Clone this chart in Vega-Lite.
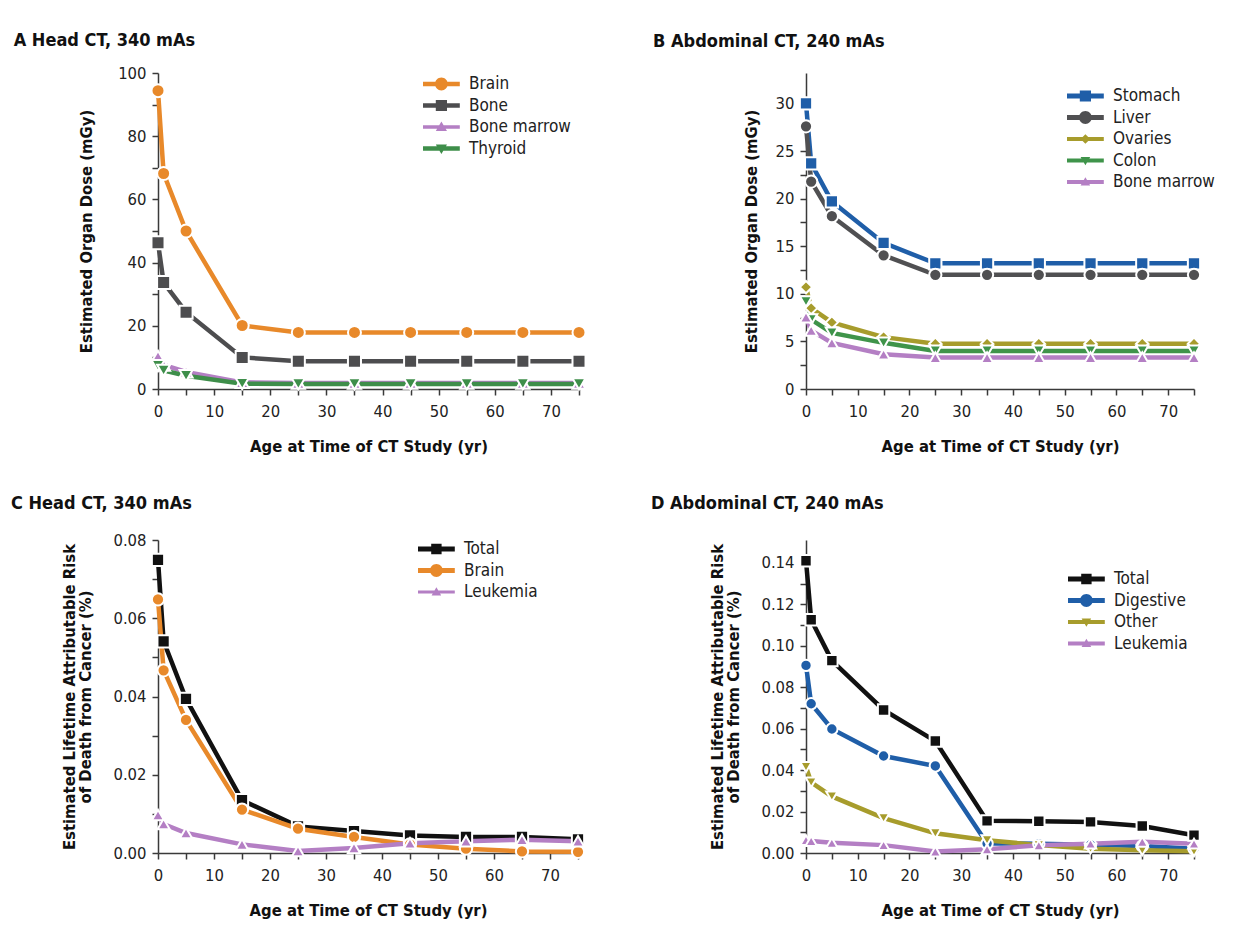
{
  "$schema": "https://vega.github.io/schema/vega-lite/v6.json",
  "background": "white",
  "padding": {"left": 10, "top": 32, "right": 5, "bottom": 5},
  "config": {
    "font": "DejaVu Sans Condensed, Roboto, sans-serif",
    "view": {"stroke": null},
    "axis": {
      "domainColor": "#3a3a3a", "domainWidth": 1.5, "tickColor": "#3a3a3a", "tickWidth": 1.5, "tickSize": 6,
      "labelFontSize": 16.5, "labelColor": "#222", "labelFlush": false, "labelOverlap": false,
      "titleFontSize": 16.5, "titleFontWeight": "bold", "titleColor": "#111", "titleLineHeight": 16,
      "grid": false
    },
    "axisX": {"labelPadding": 8},
    "axisY": {"labelPadding": 6},
    "legend": {"labelFontSize": 17, "labelColor": "#222", "symbolSize": 256, "rowPadding": 4.5, "title": null, "symbolStrokeWidth": 0, "symbolOpacity": 1, "labelOffset": 29, "padding": 0},
    "title": {"anchor": "start", "fontSize": 18, "fontWeight": "bold", "color": "#111"},
    "line": {"strokeWidth": 4.5, "strokeCap": "butt"},
    "point": {"filled": true, "opacity": 1, "stroke": "white", "strokeWidth": 2}
  },
  "resolve": {"scale": {"color": "independent", "shape": "independent", "fill": "independent"}},
  "datasets": {
    "a": [
      {"age": 0, "organ": "Brain", "v": 94.4}, {"age": 1, "organ": "Brain", "v": 68.2}, {"age": 5, "organ": "Brain", "v": 50.0}, {"age": 15, "organ": "Brain", "v": 20.1}, {"age": 25, "organ": "Brain", "v": 17.9}, {"age": 35, "organ": "Brain", "v": 17.9}, {"age": 45, "organ": "Brain", "v": 17.9}, {"age": 55, "organ": "Brain", "v": 17.9}, {"age": 65, "organ": "Brain", "v": 17.9}, {"age": 75, "organ": "Brain", "v": 17.9},
      {"age": 0, "organ": "Bone", "v": 46.3}, {"age": 1, "organ": "Bone", "v": 33.7}, {"age": 5, "organ": "Bone", "v": 24.3}, {"age": 15, "organ": "Bone", "v": 10.0}, {"age": 25, "organ": "Bone", "v": 8.8}, {"age": 35, "organ": "Bone", "v": 8.8}, {"age": 45, "organ": "Bone", "v": 8.8}, {"age": 55, "organ": "Bone", "v": 8.8}, {"age": 65, "organ": "Bone", "v": 8.8}, {"age": 75, "organ": "Bone", "v": 8.8},
      {"age": 0, "organ": "Bone marrow", "v": 10.3}, {"age": 1, "organ": "Bone marrow", "v": 7.6}, {"age": 5, "organ": "Bone marrow", "v": 5.4}, {"age": 15, "organ": "Bone marrow", "v": 2.1}, {"age": 25, "organ": "Bone marrow", "v": 1.9}, {"age": 35, "organ": "Bone marrow", "v": 1.9}, {"age": 45, "organ": "Bone marrow", "v": 1.9}, {"age": 55, "organ": "Bone marrow", "v": 1.9}, {"age": 65, "organ": "Bone marrow", "v": 1.9}, {"age": 75, "organ": "Bone marrow", "v": 1.9},
      {"age": 0, "organ": "Thyroid", "v": 7.4}, {"age": 1, "organ": "Thyroid", "v": 5.9}, {"age": 5, "organ": "Thyroid", "v": 4.2}, {"age": 15, "organ": "Thyroid", "v": 1.7}, {"age": 25, "organ": "Thyroid", "v": 1.6}, {"age": 35, "organ": "Thyroid", "v": 1.6}, {"age": 45, "organ": "Thyroid", "v": 1.6}, {"age": 55, "organ": "Thyroid", "v": 1.6}, {"age": 65, "organ": "Thyroid", "v": 1.6}, {"age": 75, "organ": "Thyroid", "v": 1.6}
    ],
    "b": [
      {"age": 0, "organ": "Stomach", "v": 30.0}, {"age": 1, "organ": "Stomach", "v": 23.7}, {"age": 5, "organ": "Stomach", "v": 19.7}, {"age": 15, "organ": "Stomach", "v": 15.35}, {"age": 25, "organ": "Stomach", "v": 13.2}, {"age": 35, "organ": "Stomach", "v": 13.2}, {"age": 45, "organ": "Stomach", "v": 13.2}, {"age": 55, "organ": "Stomach", "v": 13.2}, {"age": 65, "organ": "Stomach", "v": 13.2}, {"age": 75, "organ": "Stomach", "v": 13.2},
      {"age": 0, "organ": "Liver", "v": 27.6}, {"age": 1, "organ": "Liver", "v": 21.8}, {"age": 5, "organ": "Liver", "v": 18.15}, {"age": 15, "organ": "Liver", "v": 14.05}, {"age": 25, "organ": "Liver", "v": 12.0}, {"age": 35, "organ": "Liver", "v": 12.0}, {"age": 45, "organ": "Liver", "v": 12.0}, {"age": 55, "organ": "Liver", "v": 12.0}, {"age": 65, "organ": "Liver", "v": 12.0}, {"age": 75, "organ": "Liver", "v": 12.0},
      {"age": 0, "organ": "Ovaries", "v": 10.7}, {"age": 1, "organ": "Ovaries", "v": 8.5}, {"age": 5, "organ": "Ovaries", "v": 7.0}, {"age": 15, "organ": "Ovaries", "v": 5.45}, {"age": 25, "organ": "Ovaries", "v": 4.75}, {"age": 35, "organ": "Ovaries", "v": 4.75}, {"age": 45, "organ": "Ovaries", "v": 4.75}, {"age": 55, "organ": "Ovaries", "v": 4.75}, {"age": 65, "organ": "Ovaries", "v": 4.75}, {"age": 75, "organ": "Ovaries", "v": 4.75},
      {"age": 0, "organ": "Colon", "v": 9.2}, {"age": 1, "organ": "Colon", "v": 7.3}, {"age": 5, "organ": "Colon", "v": 5.9}, {"age": 15, "organ": "Colon", "v": 4.85}, {"age": 25, "organ": "Colon", "v": 4.0}, {"age": 35, "organ": "Colon", "v": 4.0}, {"age": 45, "organ": "Colon", "v": 4.0}, {"age": 55, "organ": "Colon", "v": 4.0}, {"age": 65, "organ": "Colon", "v": 4.0}, {"age": 75, "organ": "Colon", "v": 4.0},
      {"age": 0, "organ": "Bone marrow", "v": 7.55}, {"age": 1, "organ": "Bone marrow", "v": 6.15}, {"age": 5, "organ": "Bone marrow", "v": 4.85}, {"age": 15, "organ": "Bone marrow", "v": 3.65}, {"age": 25, "organ": "Bone marrow", "v": 3.3}, {"age": 35, "organ": "Bone marrow", "v": 3.3}, {"age": 45, "organ": "Bone marrow", "v": 3.3}, {"age": 55, "organ": "Bone marrow", "v": 3.3}, {"age": 65, "organ": "Bone marrow", "v": 3.3}, {"age": 75, "organ": "Bone marrow", "v": 3.3}
    ],
    "c": [
      {"age": 0, "organ": "Total", "v": 0.0749}, {"age": 1, "organ": "Total", "v": 0.0541}, {"age": 5, "organ": "Total", "v": 0.0394}, {"age": 15, "organ": "Total", "v": 0.0135}, {"age": 25, "organ": "Total", "v": 0.0068}, {"age": 35, "organ": "Total", "v": 0.0056}, {"age": 45, "organ": "Total", "v": 0.0045}, {"age": 55, "organ": "Total", "v": 0.0041}, {"age": 65, "organ": "Total", "v": 0.0041}, {"age": 75, "organ": "Total", "v": 0.0035},
      {"age": 0, "organ": "Brain", "v": 0.0648}, {"age": 1, "organ": "Brain", "v": 0.0467}, {"age": 5, "organ": "Brain", "v": 0.034}, {"age": 15, "organ": "Brain", "v": 0.0111}, {"age": 25, "organ": "Brain", "v": 0.0062}, {"age": 35, "organ": "Brain", "v": 0.0041}, {"age": 45, "organ": "Brain", "v": 0.0022}, {"age": 55, "organ": "Brain", "v": 0.0011}, {"age": 65, "organ": "Brain", "v": 0.0004}, {"age": 75, "organ": "Brain", "v": 0.0003},
      {"age": 0, "organ": "Leukemia", "v": 0.0097}, {"age": 1, "organ": "Leukemia", "v": 0.0074}, {"age": 5, "organ": "Leukemia", "v": 0.0051}, {"age": 15, "organ": "Leukemia", "v": 0.0022}, {"age": 25, "organ": "Leukemia", "v": 0.0005}, {"age": 35, "organ": "Leukemia", "v": 0.0013}, {"age": 45, "organ": "Leukemia", "v": 0.0025}, {"age": 55, "organ": "Leukemia", "v": 0.003}, {"age": 65, "organ": "Leukemia", "v": 0.0034}, {"age": 75, "organ": "Leukemia", "v": 0.003}
    ],
    "d": [
      {"age": 0, "organ": "Total", "v": 0.141}, {"age": 1, "organ": "Total", "v": 0.1125}, {"age": 5, "organ": "Total", "v": 0.0928}, {"age": 15, "organ": "Total", "v": 0.069}, {"age": 25, "organ": "Total", "v": 0.054}, {"age": 35, "organ": "Total", "v": 0.0155}, {"age": 45, "organ": "Total", "v": 0.0153}, {"age": 55, "organ": "Total", "v": 0.015}, {"age": 65, "organ": "Total", "v": 0.013}, {"age": 75, "organ": "Total", "v": 0.0086},
      {"age": 0, "organ": "Digestive", "v": 0.0905}, {"age": 1, "organ": "Digestive", "v": 0.072}, {"age": 5, "organ": "Digestive", "v": 0.0598}, {"age": 15, "organ": "Digestive", "v": 0.0468}, {"age": 25, "organ": "Digestive", "v": 0.042}, {"age": 35, "organ": "Digestive", "v": 0.0046}, {"age": 45, "organ": "Digestive", "v": 0.0045}, {"age": 55, "organ": "Digestive", "v": 0.004}, {"age": 65, "organ": "Digestive", "v": 0.0034}, {"age": 75, "organ": "Digestive", "v": 0.0021},
      {"age": 0, "organ": "Other", "v": 0.0415}, {"age": 1, "organ": "Other", "v": 0.0341}, {"age": 5, "organ": "Other", "v": 0.0273}, {"age": 15, "organ": "Other", "v": 0.0168}, {"age": 25, "organ": "Other", "v": 0.0095}, {"age": 35, "organ": "Other", "v": 0.0062}, {"age": 45, "organ": "Other", "v": 0.0038}, {"age": 55, "organ": "Other", "v": 0.0021}, {"age": 65, "organ": "Other", "v": 0.0013}, {"age": 75, "organ": "Other", "v": 0.0008},
      {"age": 0, "organ": "Leukemia", "v": 0.0062}, {"age": 1, "organ": "Leukemia", "v": 0.0058}, {"age": 5, "organ": "Leukemia", "v": 0.0049}, {"age": 15, "organ": "Leukemia", "v": 0.0038}, {"age": 25, "organ": "Leukemia", "v": 0.0007}, {"age": 35, "organ": "Leukemia", "v": 0.0018}, {"age": 45, "organ": "Leukemia", "v": 0.0037}, {"age": 55, "organ": "Leukemia", "v": 0.0045}, {"age": 65, "organ": "Leukemia", "v": 0.0054}, {"age": 75, "organ": "Leukemia", "v": 0.0045}
    ]
  },
  "vconcat": [
    {
      "resolve": {"scale": {"color": "independent", "shape": "independent", "fill": "independent"}},
      "hconcat": [
        {
          "title": {"text": "A  Head CT, 340 mAs", "dx": -65, "offset": 15},
          "width": 421, "height": 316,
          "data": {"name": "a"},
          "resolve": {"scale": {"shape": "independent", "fill": "independent"}},
          "encoding": {
            "x": {"field": "age", "type": "quantitative", "scale": {"domain": [0, 75], "nice": false}, "axis": {"title": "Age at Time of CT Study (yr)", "values": [0,5,10,15,20,25,30,35,40,45,50,55,60,65,70,75], "labelExpr": "datum.value % 10 == 0 ? datum.label : ''", "titlePadding": 19}},
            "y": {"field": "v", "type": "quantitative", "scale": {"domain": [0, 100], "nice": false}, "axis": {"title": "Estimated Organ Dose (mGy)", "values": [0,10,20,30,40,50,60,70,80,90,100], "labelExpr": "datum.value % 20 == 0 ? datum.label : ''", "titlePadding": 23}}
          },
          "layer": [
            {"mark": {"type": "line"}, "encoding": {"color": {"field": "organ", "type": "nominal", "scale": {"domain": ["Brain", "Bone", "Bone marrow", "Thyroid"], "range": ["#e8892a", "#4d4d4f", "#b47fc4", "#3e8e4a"]}, "legend": null}}},
            {"mark": {"type": "point", "size": 170}, "encoding": {"color": {"field": "organ", "type": "nominal", "legend": null}, "shape": {"field": "organ", "type": "nominal", "scale": {"domain": ["Brain", "Bone", "Bone marrow", "Thyroid"], "range": ["circle", "square", "triangle-up", "triangle-down"]}, "legend": null}}},
            {"mark": {"type": "point", "opacity": 0, "stroke": null},
             "encoding": {
               "fill": {"field": "organ", "type": "nominal", "scale": {"domain": ["Brain", "Bone", "Bone marrow", "Thyroid"], "range": ["#e8892a", "#4d4d4f", "#b47fc4", "#3e8e4a"]}, "legend": {"orient": "none", "legendX": 264, "legendY": 2}},
               "shape": {"field": "organ", "type": "nominal", "scale": {"domain": ["Brain", "Bone", "Bone marrow", "Thyroid"], "range": [
                 "M-1,-0.28L3.6,-0.28L3.6,0.28L-1,0.28Z M2.1,0A0.8,0.8 0 1,1 0.5,0A0.8,0.8 0 1,1 2.1,0Z",
                 "M-1,-0.28L3.6,-0.28L3.6,0.28L-1,0.28Z M0.6,-0.7L2,-0.7L2,0.7L0.6,0.7Z",
                 "M-1,-0.22L3.6,-0.22L3.6,0.22L-1,0.22Z M1.3,-0.7L2,0.5L0.6,0.5Z",
                 "M-1,-0.28L3.6,-0.28L3.6,0.28L-1,0.28Z M1.3,0.7L0.6,-0.5L2,-0.5Z"]}, "legend": {"orient": "none", "legendX": 264, "legendY": 2}}
             }}
          ]
        },
        {
          "title": {"text": "B  Abdominal CT, 240 mAs", "dx": -90, "offset": 22},
          "width": 388, "height": 316,
          "data": {"name": "b"},
          "resolve": {"scale": {"shape": "independent", "fill": "independent"}},
          "encoding": {
            "x": {"field": "age", "type": "quantitative", "scale": {"domain": [0, 75], "nice": false}, "axis": {"title": "Age at Time of CT Study (yr)", "values": [0,5,10,15,20,25,30,35,40,45,50,55,60,65,70,75], "labelExpr": "datum.value % 10 == 0 ? datum.label : ''", "titlePadding": 19}},
            "y": {"field": "v", "type": "quantitative", "scale": {"domain": [0, 33.2], "nice": false}, "axis": {"title": "Estimated Organ Dose (mGy)", "values": [0,2.5,5,7.5,10,12.5,15,17.5,20,22.5,25,27.5,30], "labelExpr": "datum.value % 5 == 0 ? datum.label : ''", "titlePadding": 16}}
          },
          "layer": [
            {"mark": {"type": "line"}, "encoding": {"color": {"field": "organ", "type": "nominal", "scale": {"domain": ["Stomach", "Liver", "Ovaries", "Colon", "Bone marrow"], "range": ["#1f5ea8", "#505052", "#a79c2c", "#3f944a", "#b47fc4"]}, "legend": null}}},
            {"mark": {"type": "point", "size": 150}, "encoding": {"color": {"field": "organ", "type": "nominal", "legend": null}, "shape": {"field": "organ", "type": "nominal", "scale": {"domain": ["Stomach", "Liver", "Ovaries", "Colon", "Bone marrow"], "range": ["square", "circle", "diamond", "triangle-down", "triangle-up"]}, "legend": null}}},
            {"mark": {"type": "point", "opacity": 0, "stroke": null},
             "encoding": {
               "fill": {"field": "organ", "type": "nominal", "scale": {"domain": ["Stomach", "Liver", "Ovaries", "Colon", "Bone marrow"], "range": ["#1f5ea8", "#505052", "#a79c2c", "#3f944a", "#b47fc4"]}, "legend": {"orient": "none", "legendX": 260, "legendY": 14}},
               "shape": {"field": "organ", "type": "nominal", "scale": {"domain": ["Stomach", "Liver", "Ovaries", "Colon", "Bone marrow"], "range": [
                 "M-1,-0.3L3.6,-0.3L3.6,0.3L-1,0.3Z M0.6,-0.7L2,-0.7L2,0.7L0.6,0.7Z",
                 "M-1,-0.3L3.6,-0.3L3.6,0.3L-1,0.3Z M2.1,0A0.8,0.8 0 1,1 0.5,0A0.8,0.8 0 1,1 2.1,0Z",
                 "M-1,-0.25L3.6,-0.25L3.6,0.25L-1,0.25Z M1.3,-0.6L1.9,0L1.3,0.6L0.7,0Z",
                 "M-1,-0.25L3.6,-0.25L3.6,0.25L-1,0.25Z M1.3,0.6L0.7,-0.45L1.9,-0.45Z",
                 "M-1,-0.25L3.6,-0.25L3.6,0.25L-1,0.25Z M1.3,-0.6L1.9,0.45L0.7,0.45Z"]}, "legend": {"orient": "none", "legendX": 260, "legendY": 14}}
             }}
          ]
        }
      ],
      "spacing": 63
    },
    {
      "resolve": {"scale": {"color": "independent", "shape": "independent", "fill": "independent"}},
      "hconcat": [
        {
          "title": {"text": "C  Head CT, 340 mAs", "dx": -51, "offset": 19},
          "width": 420, "height": 313,
          "data": {"name": "c"},
          "resolve": {"scale": {"shape": "independent", "fill": "independent"}},
          "encoding": {
            "x": {"field": "age", "type": "quantitative", "scale": {"domain": [0, 75], "nice": false}, "axis": {"title": "Age at Time of CT Study (yr)", "values": [0,5,10,15,20,25,30,35,40,45,50,55,60,65,70,75], "labelExpr": "datum.value % 10 == 0 ? datum.label : ''", "titlePadding": 19}},
            "y": {"field": "v", "type": "quantitative", "scale": {"domain": [0, 0.08], "nice": false}, "axis": {"title": ["Estimated Lifetime Attributable Risk", "of Death from Cancer (%)"], "values": [0,0.01,0.02,0.03,0.04,0.05,0.06,0.07,0.08], "labelExpr": "abs(round(datum.value*100) % 2) < 0.5 ? format(datum.value, '.2f') : ''", "titlePadding": 19}}
          },
          "layer": [
            {"mark": {"type": "line"}, "encoding": {"color": {"field": "organ", "type": "nominal", "scale": {"domain": ["Total", "Brain", "Leukemia"], "range": ["#111111", "#e8892a", "#b47fc4"]}, "legend": null}}},
            {"mark": {"type": "point", "size": 150}, "encoding": {"color": {"field": "organ", "type": "nominal", "legend": null}, "shape": {"field": "organ", "type": "nominal", "scale": {"domain": ["Total", "Brain", "Leukemia"], "range": ["square", "circle", "triangle-up"]}, "legend": null}}},
            {"mark": {"type": "point", "opacity": 0, "stroke": null},
             "encoding": {
               "fill": {"field": "organ", "type": "nominal", "scale": {"domain": ["Total", "Brain", "Leukemia"], "range": ["#111111", "#e8892a", "#b47fc4"]}, "legend": {"orient": "none", "legendX": 259, "legendY": 0}},
               "shape": {"field": "organ", "type": "nominal", "scale": {"domain": ["Total", "Brain", "Leukemia"], "range": [
                 "M-1,-0.3L3.6,-0.3L3.6,0.3L-1,0.3Z M0.65,-0.65L1.95,-0.65L1.95,0.65L0.65,0.65Z",
                 "M-1,-0.3L3.6,-0.3L3.6,0.3L-1,0.3Z M2.1,0A0.8,0.8 0 1,1 0.5,0A0.8,0.8 0 1,1 2.1,0Z",
                 "M-1,-0.2L3.6,-0.2L3.6,0.2L-1,0.2Z M1.3,-0.6L1.9,0.45L0.7,0.45Z"]}, "legend": {"orient": "none", "legendX": 259, "legendY": 0}}
             }}
          ]
        },
        {
          "title": {"text": "D  Abdominal CT, 240 mAs", "dx": -59, "offset": 27},
          "width": 388, "height": 313,
          "data": {"name": "d"},
          "resolve": {"scale": {"shape": "independent", "fill": "independent"}},
          "encoding": {
            "x": {"field": "age", "type": "quantitative", "scale": {"domain": [0, 75], "nice": false}, "axis": {"title": "Age at Time of CT Study (yr)", "values": [0,5,10,15,20,25,30,35,40,45,50,55,60,65,70,75], "labelExpr": "datum.value % 10 == 0 ? datum.label : ''", "titlePadding": 19}},
            "y": {"field": "v", "type": "quantitative", "scale": {"domain": [0, 0.151], "nice": false}, "axis": {"title": ["Estimated Lifetime Attributable Risk", "of Death from Cancer (%)"], "values": [0,0.01,0.02,0.03,0.04,0.05,0.06,0.07,0.08,0.09,0.10,0.11,0.12,0.13,0.14], "labelExpr": "abs(round(datum.value*100) % 2) < 0.5 ? format(datum.value, '.2f') : ''", "titlePadding": 19}}
          },
          "layer": [
            {"mark": {"type": "line"}, "encoding": {"color": {"field": "organ", "type": "nominal", "scale": {"domain": ["Total", "Digestive", "Other", "Leukemia"], "range": ["#111111", "#1f5ea8", "#a79c2c", "#b47fc4"]}, "legend": null}}},
            {"mark": {"type": "point", "size": 130}, "encoding": {"color": {"field": "organ", "type": "nominal", "legend": null}, "shape": {"field": "organ", "type": "nominal", "scale": {"domain": ["Total", "Digestive", "Other", "Leukemia"], "range": ["square", "circle", "triangle-down", "triangle-up"]}, "legend": null}}},
            {"mark": {"type": "point", "opacity": 0, "stroke": null},
             "encoding": {
               "fill": {"field": "organ", "type": "nominal", "scale": {"domain": ["Total", "Digestive", "Other", "Leukemia"], "range": ["#111111", "#1f5ea8", "#a79c2c", "#b47fc4"]}, "legend": {"orient": "none", "legendX": 261, "legendY": 30}},
               "shape": {"field": "organ", "type": "nominal", "scale": {"domain": ["Total", "Digestive", "Other", "Leukemia"], "range": [
                 "M-1,-0.3L3.6,-0.3L3.6,0.3L-1,0.3Z M0.65,-0.65L1.95,-0.65L1.95,0.65L0.65,0.65Z",
                 "M-1,-0.3L3.6,-0.3L3.6,0.3L-1,0.3Z M2.1,0A0.8,0.8 0 1,1 0.5,0A0.8,0.8 0 1,1 2.1,0Z",
                 "M-1,-0.25L3.6,-0.25L3.6,0.25L-1,0.25Z M1.3,0.6L0.7,-0.45L1.9,-0.45Z",
                 "M-1,-0.25L3.6,-0.25L3.6,0.25L-1,0.25Z M1.3,-0.6L1.9,0.45L0.7,0.45Z"]}, "legend": {"orient": "none", "legendX": 261, "legendY": 30}}
             }}
          ]
        }
      ],
      "spacing": 61
    }
  ],
  "spacing": 40
}
